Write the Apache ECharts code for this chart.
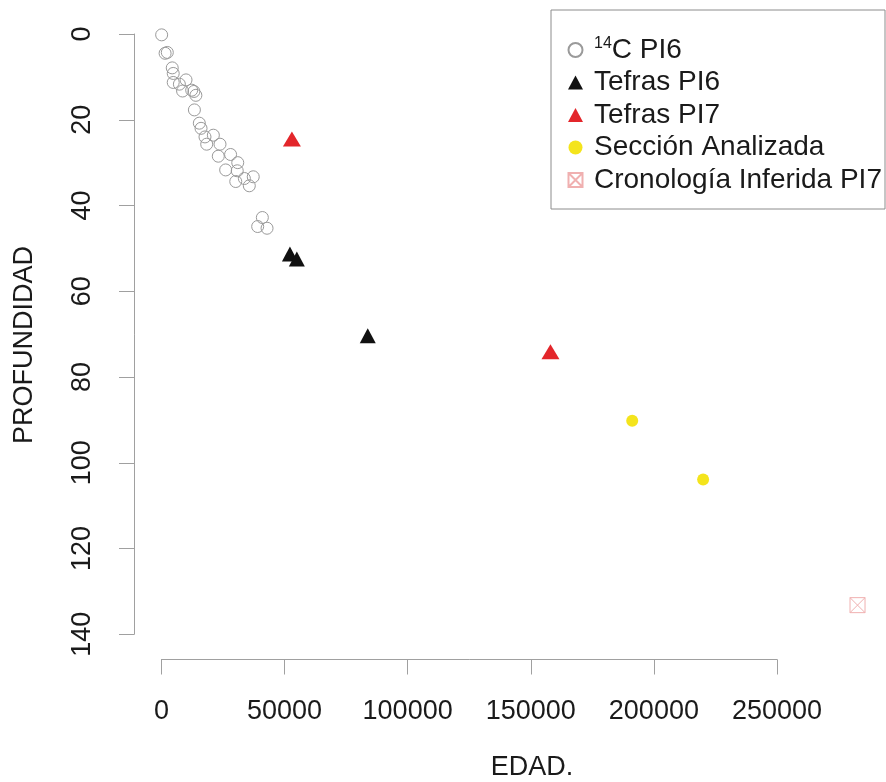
<!DOCTYPE html>
<html>
<head>
<meta charset="utf-8">
<script src="https://cdn.jsdelivr.net/npm/echarts@6/dist/echarts.min.js"></script>
<style>
  html, body { margin: 0; padding: 0; background: #ffffff; }
  #chart { width: 886px; height: 782px; }
</style>
</head>
<body>
<div id="chart"></div>
<script>
// edad (años) / profundidad
const c14Pl6 = [
  [100, 0.2], [1500, 4.5], [2400, 4.3], [4400, 7.9], [4800, 9.2], [4800, 11.3],
  [7300, 11.7], [8600, 13.3], [10000, 10.7], [12300, 13.1], [13200, 13.4], [14000, 14.3],
  [13400, 17.7], [15400, 20.8], [16100, 22.0], [17700, 24.0], [21100, 23.6], [18400, 25.7],
  [23800, 25.7], [23100, 28.5], [28100, 28.1], [31000, 30.0], [26100, 31.7], [30800, 31.9],
  [30200, 34.4], [33700, 33.7], [37300, 33.3], [35700, 35.4], [41000, 42.8], [39100, 44.9],
  [42900, 45.3]
]
const tefrasPl6 = [[52200, 51.3], [55000, 52.5], [83800, 70.4]]
const tefrasPl7 = [[53000, 24.5], [158000, 74.1]]
const seccion = [[191200, 90.2], [220000, 103.9]]
const inferida = [[282700, 133.2]]

const xTicks = { min: 0, max: 250000, step: 50000 }
const yTicks = { min: 0, max: 140, step: 20 }

const FONT = "'Liberation Sans', Arial, sans-serif"
const TXT = '#1a1a1a'
const AXIS = '#a0a0a0'
const boxX = 'path://M0,0L12,0L12,12L0,12Z M0,0L12,12 M12,0L0,12'

const chart = echarts.init(document.getElementById('chart'))

chart.setOption({
  animation: false,
  backgroundColor: '#ffffff',
  textStyle: { fontFamily: FONT, color: TXT },
  grid: {
    left: 161.4,
    right: 109,
    top: 34,
    bottom: 147.7,
  },
  xAxis: {
    type: 'value',
    min: xTicks.min,
    max: xTicks.max,
    interval: xTicks.step,
    offset: 25.2,
    axisLine: { show: true, onZero: false, lineStyle: { color: AXIS, width: 1 } },
    axisTick: { show: true, length: 15, lineStyle: { color: AXIS } },
    splitLine: { show: false },
    axisLabel: {
      fontSize: 27,
      color: TXT,
      fontFamily: FONT,
      margin: 39,
      formatter: (v) => String(v),
    },
  },
  yAxis: {
    type: 'value',
    inverse: true,
    min: yTicks.min,
    max: yTicks.max,
    interval: yTicks.step,
    offset: 27.4,
    axisLine: { show: true, onZero: false, lineStyle: { color: AXIS, width: 1 } },
    axisTick: { show: true, length: 15, lineStyle: { color: AXIS } },
    splitLine: { show: false },
    axisLabel: {
      fontSize: 27,
      color: TXT,
      fontFamily: FONT,
      rotate: 90,
      margin: 38,
      formatter: (v) => String(v),
    },
  },
  legend: {
    orient: 'vertical',
    left: 566,
    top: 36,
    padding: 0,
    itemGap: 4.5,
    itemWidth: 15,
    itemHeight: 14,
    data: [
      { name: '14C PI6', icon: 'circle' },
      { name: 'Tefras PI6', icon: 'triangle' },
      { name: 'Tefras PI7', icon: 'triangle' },
      { name: 'Sección Analizada', icon: 'circle' },
      { name: 'Cronología Inferida PI7', icon: boxX },
    ],
    formatter: function (name) {
      if (name === '14C PI6') {
        return '{sup|14}{c|C PI6}'
      }
      return '{b|' + name + '}'
    },
    textStyle: {
      fontFamily: FONT,
      color: TXT,
      rich: {
        b: { fontSize: 28, fontFamily: FONT, color: TXT, padding: [0, 0, 0, 6] },
        c: { fontSize: 28, fontFamily: FONT, color: TXT },
        sup: { fontSize: 16, fontFamily: FONT, color: TXT, verticalAlign: 'top', padding: [0, 0, 0, 6] },
      },
    },
  },
  graphic: [
    {
      type: 'rect',
      z: -10,
      shape: { x: 551, y: 10, width: 334, height: 199 },
      style: { fill: '#ffffff', stroke: '#8c8c8c', lineWidth: 1 },
    },
    {
      type: 'text',
      x: 532,
      y: 768,
      style: {
        text: 'EDAD.',
        fontSize: 27,
        fontFamily: FONT,
        fill: TXT,
        align: 'center',
        verticalAlign: 'middle',
      },
    },
    {
      type: 'text',
      x: 25,
      y: 345,
      rotation: Math.PI / 2,
      style: {
        text: 'PROFUNDIDAD',
        fontSize: 27,
        fontFamily: FONT,
        fill: TXT,
        align: 'center',
        verticalAlign: 'middle',
      },
    },
  ],
  series: [
    {
      name: '14C PI6',
      type: 'scatter',
      clip: false,
      symbol: 'circle',
      symbolSize: 12,
      data: c14Pl6,
      itemStyle: { color: 'rgba(255,255,255,0)', borderColor: '#9a9a9a', borderWidth: 1, opacity: 1 },
    },
    {
      name: 'Tefras PI6',
      type: 'scatter',
      clip: false,
      symbol: 'triangle',
      symbolSize: [16, 15],
      data: tefrasPl6,
      itemStyle: { color: '#111111', opacity: 1 },
    },
    {
      name: 'Tefras PI7',
      type: 'scatter',
      clip: false,
      symbol: 'triangle',
      symbolSize: [18, 15],
      data: tefrasPl7,
      itemStyle: { color: '#e3262b', opacity: 1 },
    },
    {
      name: 'Sección Analizada',
      type: 'scatter',
      clip: false,
      symbol: 'circle',
      symbolSize: 12,
      data: seccion,
      itemStyle: { color: '#f4e41c', opacity: 1 },
    },
    {
      name: 'Cronología Inferida PI7',
      type: 'scatter',
      clip: false,
      symbol: boxX,
      symbolSize: 15,
      data: inferida,
      itemStyle: { color: 'none', borderColor: '#f0b0b0', borderWidth: 1, opacity: 1 },
    },
  ],
})
</script>
</body>
</html>
